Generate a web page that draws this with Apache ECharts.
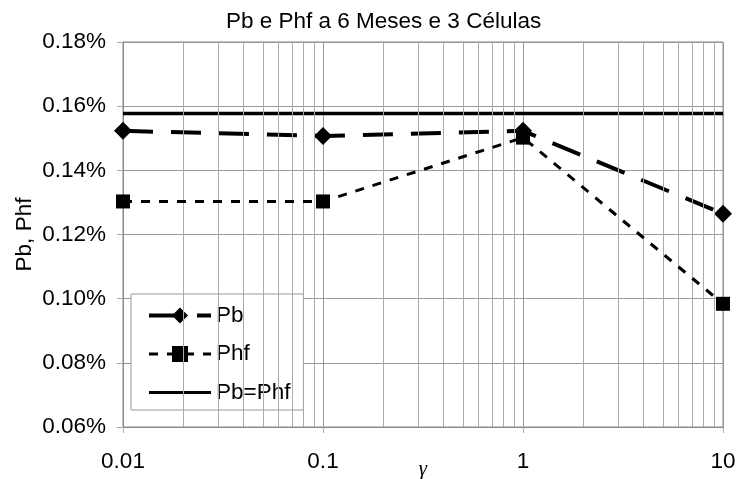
<!DOCTYPE html>
<html>
<head>
<meta charset="utf-8">
<script src="https://cdn.jsdelivr.net/npm/echarts@6/dist/echarts.min.js"></script>
<style>html,body{margin:0;padding:0;background:#fff}#c{width:738px;height:479px}</style>
</head>
<body>
<div id="c"></div>
<script>
// Data (values in percent)
const gammaValues = [0.01, 0.1, 1, 10];
const pbValues = [0.1523, 0.1507, 0.1523, 0.1265];
const phfValues = [0.1303, 0.1303, 0.1502, 0.0984];
const equalLineValue = 0.1577;
const xRange = [0.01, 10];
const yTicks = [0.06, 0.08, 0.10, 0.12, 0.14, 0.16, 0.18];
const minorGridX = [0.02,0.03,0.04,0.05,0.06,0.07,0.08,0.09,0.2,0.3,0.4,0.5,0.6,0.7,0.8,0.9,2,3,4,5,6,7,8,9];

const FONT = 'Liberation Sans, Arial, sans-serif';
const chart = echarts.init(document.getElementById('c'), null, {renderer: 'canvas'});
const pair = (xs, ys) => xs.map((x, i) => [x, ys[i]]);

chart.setOption({
  animation: false,
  backgroundColor: '#fff',
  title: {
    text: 'Pb e Phf a 6 Meses e 3 Células',
    left: 221, top: 5,
    textStyle: {fontFamily: FONT, fontSize: 22.5, fontWeight: 'normal', color: '#000'}
  },
  grid: {left: 123, right: 15, top: 42, bottom: 52, show: true, borderColor: '#888', borderWidth: 1,
    outerBoundsMode: 'none', containLabel: false},
  legend: {
    orient: 'vertical', left: 131, top: 294,
    padding: [10, 13, 6, 16],
    itemWidth: 62, itemHeight: 20, itemGap: 15.5,
    backgroundColor: '#fff', borderColor: '#999', borderWidth: 1,
    textStyle: {fontFamily: FONT, fontSize: 22.5, color: '#000'},
    data: [
      {name: 'Pb', lineStyle: {width: 4}},
      {name: 'Phf', lineStyle: {width: 3}},
      {name: 'Pb=Phf', lineStyle: {width: 3}, itemStyle: {opacity: 0}}
    ]
  },
  xAxis: {
    type: 'log', logBase: 10, min: xRange[0], max: xRange[1],
    name: 'γ', nameLocation: 'middle', nameGap: 32, nameMoveOverlap: false,
    nameTextStyle: {fontFamily: 'Liberation Serif, serif', fontStyle: 'italic', fontSize: 21, color: '#000'},
    axisLine: {show: true, lineStyle: {color: '#888'}},
    axisTick: {show: true, length: 6, lineStyle: {color: '#aaa'}},
    axisLabel: {fontFamily: FONT, fontSize: 22.5, color: '#000', margin: 23,
      formatter: v => String(+v.toPrecision(3))},
    splitLine: {show: true, lineStyle: {color: '#999', width: 1}},
    minorTick: {show: false}, minorSplitLine: {show: false}
  },
  yAxis: {
    type: 'value', min: yTicks[0], max: yTicks[yTicks.length - 1], interval: 0.02,
    name: 'Pb, Phf', nameLocation: 'middle', nameGap: 87, nameMoveOverlap: false,
    nameTextStyle: {fontFamily: FONT, fontSize: 22.5, color: '#000'},
    axisLine: {show: true, lineStyle: {color: '#888'}},
    axisTick: {show: true, length: 6, lineStyle: {color: '#aaa'}},
    axisLabel: {fontFamily: FONT, fontSize: 22.5, color: '#000', margin: 17,
      formatter: v => v.toFixed(2) + '%'},
    splitLine: {show: true, lineStyle: {color: '#999', width: 1}}
  },
  series: [
    {
      name: 'grid-minor', type: 'line', data: [], silent: true,
      markLine: {
        silent: true, symbol: 'none', animation: false,
        label: {show: false},
        lineStyle: {color: '#aaa', width: 1, type: 'solid'},
        data: minorGridX.map(v => ({xAxis: v}))
      }
    },
    {
      name: 'Pb=Phf', type: 'line', data: pair(xRange, [equalLineValue, equalLineValue]),
      showSymbol: false, symbol: 'none',
      lineStyle: {color: '#000', width: 3.5, type: 'solid'},
      itemStyle: {color: '#000'}, z: 3
    },
    {
      name: 'Pb', type: 'line', data: pair(gammaValues, pbValues),
      symbol: 'diamond', symbolSize: 18,
      lineStyle: {color: '#000', width: 4, type: [30, 18]},
      itemStyle: {color: '#000'}, z: 4
    },
    {
      name: 'Phf', type: 'line', data: pair(gammaValues, phfValues),
      symbol: 'rect', symbolSize: 14,
      lineStyle: {color: '#000', width: 3, type: [9, 9]},
      itemStyle: {color: '#000'}, z: 5
    }
  ]
});
</script>
</body>
</html>
